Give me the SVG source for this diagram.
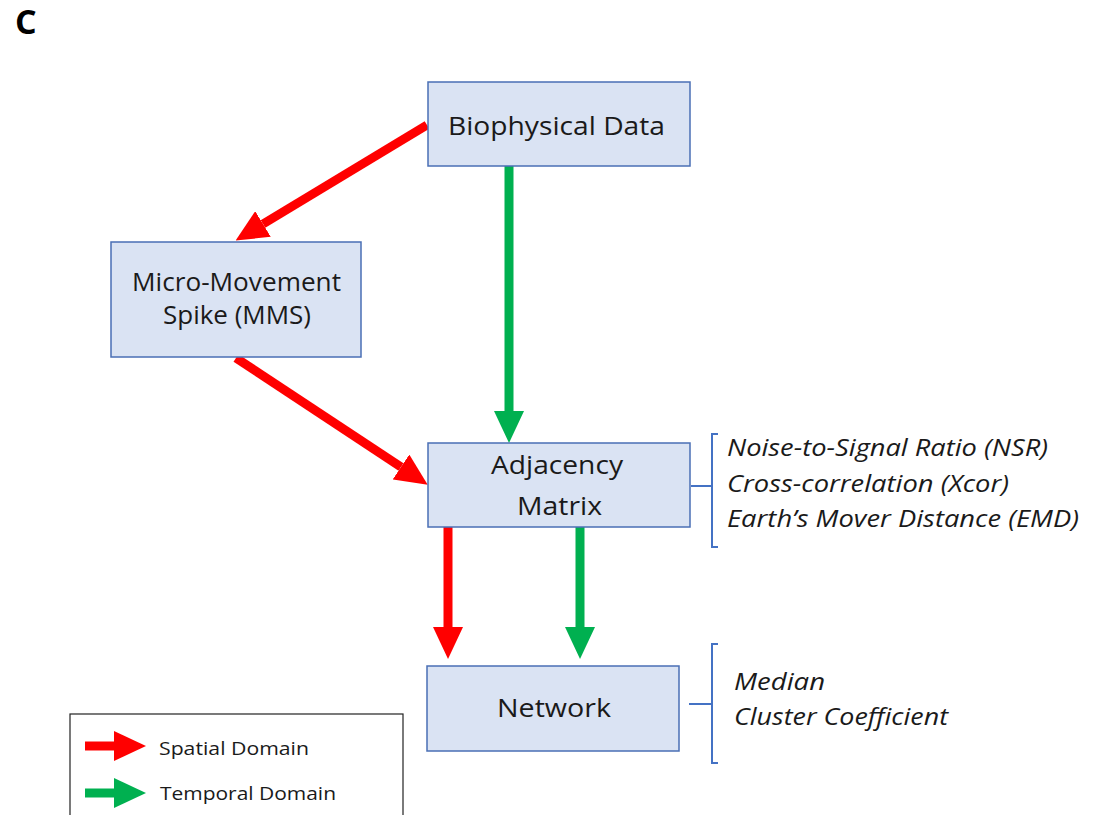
<svg xmlns="http://www.w3.org/2000/svg" width="1096" height="815" viewBox="0 0 1096 815">
<style>
.box{fill:#dae3f3;stroke:#4a6fb5;stroke-width:1.5}
.lbl{font-family:"Open Sans","Liberation Sans",sans-serif;font-size:25px;fill:#1a1a1a;text-anchor:middle}
.it{font-family:"Open Sans","Liberation Sans",sans-serif;font-size:24px;font-style:italic;fill:#1a1a1a}
.red{stroke:#ff0000;stroke-width:9;fill:none}
.grn{stroke:#00b050;stroke-width:9;fill:none}
.br{stroke:#4472c4;stroke-width:2;fill:none}
.leg{font-family:"Open Sans","Liberation Sans",sans-serif;font-size:18px;fill:#1a1a1a}
</style>
<defs>
<marker id="hr" markerUnits="userSpaceOnUse" markerWidth="32" markerHeight="30" refX="0" refY="15" orient="auto" viewBox="0 0 32 30"><path d="M0,0 L32,15 L0,30 z" fill="#ff0000"/></marker>
<marker id="hg" markerUnits="userSpaceOnUse" markerWidth="32" markerHeight="30" refX="0" refY="15" orient="auto" viewBox="0 0 32 30"><path d="M0,0 L32,15 L0,30 z" fill="#00b050"/></marker>
</defs>
<rect width="1096" height="815" fill="#ffffff"/>
<text x="15" y="34" font-family="'Open Sans','Liberation Sans',sans-serif" font-size="34" font-weight="bold" fill="#000">C</text>

<g id="connectors">
<line class="red" x1="427" y1="125" x2="263" y2="224" marker-end="url(#hr)"/>
<line class="grn" x1="509" y1="166" x2="509" y2="411" marker-end="url(#hg)"/>
<line class="red" x1="236" y1="358" x2="401" y2="467" marker-end="url(#hr)"/>
<line class="red" x1="448" y1="527" x2="448" y2="627" marker-end="url(#hr)"/>
<line class="grn" x1="580" y1="527" x2="580" y2="627" marker-end="url(#hg)"/>
</g>

<g id="biophysical">
<rect class="box" x="428" y="82" width="262" height="84"/>
<text class="lbl" x="556.5" y="135" textLength="217" lengthAdjust="spacingAndGlyphs">Biophysical Data</text>
</g>
<g id="mms">
<rect class="box" x="111" y="242" width="250" height="115"/>
<text class="lbl" x="236.5" y="291" textLength="209" lengthAdjust="spacingAndGlyphs">Micro-Movement</text>
<text class="lbl" x="237" y="324" textLength="148" lengthAdjust="spacingAndGlyphs">Spike (MMS)</text>
</g>
<g id="adjacency">
<rect class="box" x="428" y="443" width="262" height="84"/>
<text class="lbl" x="557" y="474" textLength="132" lengthAdjust="spacingAndGlyphs">Adjacency</text>
<text class="lbl" x="559.5" y="515" textLength="85" lengthAdjust="spacingAndGlyphs">Matrix</text>
</g>
<g id="network">
<rect class="box" x="427" y="666" width="252" height="85"/>
<text class="lbl" x="554" y="717" textLength="114" lengthAdjust="spacingAndGlyphs">Network</text>
</g>

<g id="metrics-adjacency">
<path class="br" d="M691,486 H712 M718,434 H712 V547 H718"/>
<text class="it" x="727" y="456" textLength="321" lengthAdjust="spacingAndGlyphs">Noise-to-Signal Ratio (NSR)</text>
<text class="it" x="727" y="492" textLength="282" lengthAdjust="spacingAndGlyphs">Cross-correlation (Xcor)</text>
<text class="it" x="727" y="527" textLength="352" lengthAdjust="spacingAndGlyphs">Earth’s Mover Distance (EMD)</text>
</g>
<g id="metrics-network">
<path class="br" d="M689,704 H712 M718,644 H712 V763 H718"/>
<text class="it" x="734" y="690" textLength="91" lengthAdjust="spacingAndGlyphs">Median</text>
<text class="it" x="734" y="725" textLength="214" lengthAdjust="spacingAndGlyphs">Cluster Coefficient</text>
</g>

<g id="legend">
<rect x="70" y="714" width="333" height="110" fill="#ffffff" stroke="#222" stroke-width="1.2"/>
<line class="red" x1="85" y1="746" x2="114" y2="746" marker-end="url(#hr)"/>
<text class="leg" x="159" y="755" textLength="150" lengthAdjust="spacingAndGlyphs">Spatial Domain</text>
<line class="grn" x1="85" y1="793" x2="114" y2="793" marker-end="url(#hg)"/>
<text class="leg" x="160" y="800" textLength="176" lengthAdjust="spacingAndGlyphs">Temporal Domain</text>
</g>
</svg>
